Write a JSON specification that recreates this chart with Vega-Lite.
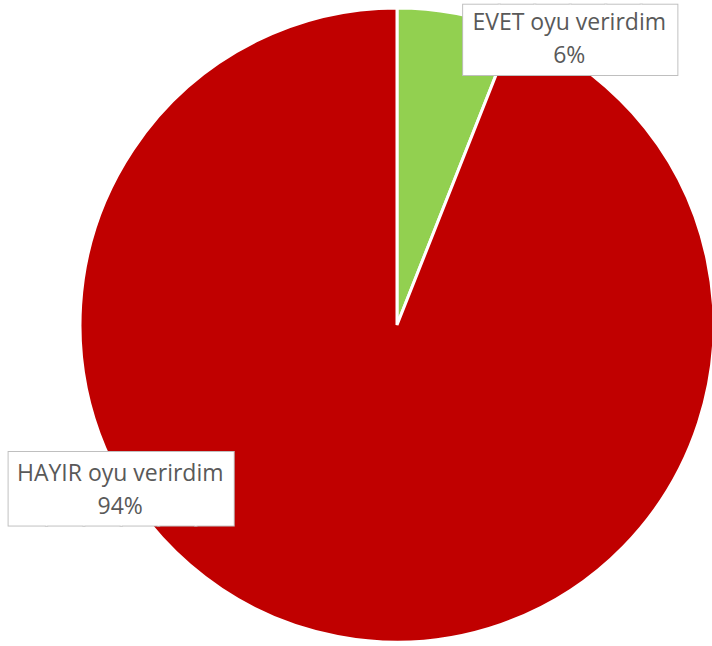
{
  "$schema": "https://vega.github.io/schema/vega-lite/v6.json",
  "width": 630,
  "height": 642,
  "autosize": "none",
  "padding": {"left": 82, "top": 4, "right": 0, "bottom": 0},
  "background": "white",
  "data": {"values": [
    {"category": "EVET oyu verirdim", "value": 6, "label": "EVET oyu verirdim\n6%"},
    {"category": "HAYIR oyu verirdim", "value": 94, "label": "HAYIR oyu verirdim\n94%"}
  ]},
  "encoding": {
    "theta": {"field": "value", "type": "quantitative", "stack": true},
    "color": {"field": "category", "type": "nominal", "legend": null,
      "scale": {"domain": ["EVET oyu verirdim", "HAYIR oyu verirdim"], "range": ["#92D050", "#C00000"]}}
  },
  "layer": [
    {"mark": {"type": "arc", "outerRadius": 317, "stroke": "white", "strokeWidth": 3}},
    {"transform": [{"filter": "datum.category === 'EVET oyu verirdim'"}],
     "mark": {"type": "text", "text": "██████", "font": "DejaVu Sans Mono", "fontSize": 59, "radius": 300, "dx": 117, "dy": 12, "align": "center", "baseline": "middle", "fill": "#BFBFBF", "stroke": "#BFBFBF", "strokeWidth": 2}},
    {"transform": [{"filter": "datum.category === 'EVET oyu verirdim'"}],
     "mark": {"type": "text", "text": "██████", "font": "DejaVu Sans Mono", "fontSize": 59, "radius": 300, "dx": 117, "dy": 12, "align": "center", "baseline": "middle", "fill": "white"}},
    {"transform": [{"filter": "datum.category === 'EVET oyu verirdim'"}],
     "mark": {"type": "text", "radius": 300, "dx": 116, "dy": -7, "align": "center", "baseline": "middle", "font": "Open Sans", "fontSize": 23, "lineHeight": 33, "lineBreak": "\n"},
     "encoding": {"text": {"field": "label"}, "color": {"value": "#595959"}}},
    {"transform": [{"filter": "datum.category === 'HAYIR oyu verirdim'"}],
     "mark": {"type": "text", "text": "██████", "font": "DejaVu Sans Mono", "fontSize": 62, "radius": 300, "dx": -332, "dy": -129, "align": "center", "baseline": "middle", "fill": "#BFBFBF", "stroke": "#BFBFBF", "strokeWidth": 2}},
    {"transform": [{"filter": "datum.category === 'HAYIR oyu verirdim'"}],
     "mark": {"type": "text", "text": "██████", "font": "DejaVu Sans Mono", "fontSize": 62, "radius": 300, "dx": -332, "dy": -129, "align": "center", "baseline": "middle", "fill": "white"}},
    {"transform": [{"filter": "datum.category === 'HAYIR oyu verirdim'"}],
     "mark": {"type": "text", "radius": 300, "dx": -333, "dy": -146, "align": "center", "baseline": "middle", "font": "Open Sans", "fontSize": 23, "lineHeight": 33, "lineBreak": "\n"},
     "encoding": {"text": {"field": "label"}, "color": {"value": "#595959"}}}
  ]
}
